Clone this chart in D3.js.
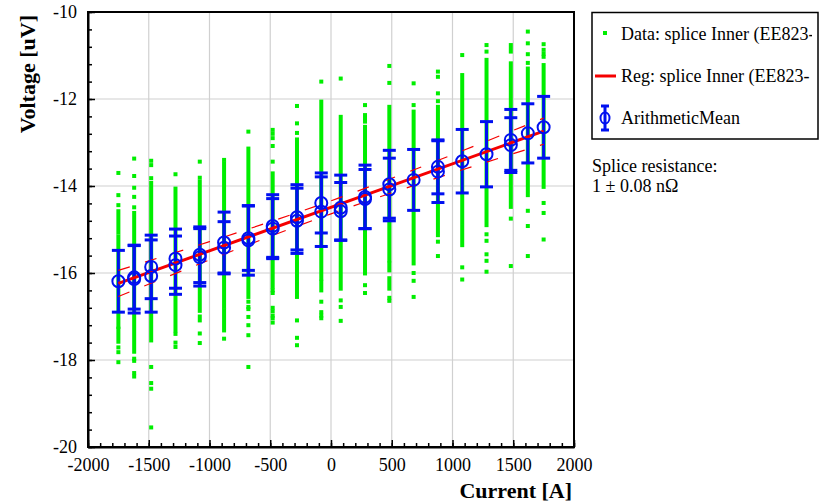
<!DOCTYPE html>
<html>
<head>
<meta charset="utf-8">
<script src="https://cdn.jsdelivr.net/npm/d3@7"></script>
<style>
  body { margin: 0; background: #fff; }
  svg { display: block; font-family: "Liberation Serif", "Times New Roman", serif; }
</style>
</head>
<body>
<div id="chart"></div>
<script>
// measurement currents (one column of readings per current)
var currents = [-1750, -1620, -1480, -1280, -1080, -880, -680, -480, -280, -80,
                80, 280, 480, 680, 880, 1080, 1280, 1480, 1620, 1750];

// dense stretches of readings per column [high, low] in uV
var denseRuns = [
  [[-14.58, -15.07], [-15.16, -17.24], [-17.28, -17.58]],
  [[-14.62, -17.81]],
  [[-13.93, -17.55]],
  [[-14.06, -17.32]],
  [[-13.90, -16.87], [-17.00, -17.09]],
  [[-13.48, -16.78], [-16.86, -17.32]],
  [[-13.14, -16.55]],
  [[-13.71, -16.32]],
  [[-12.93, -16.05], [-16.12, -16.55]],
  [[-12.06, -16.13], [-16.20, -16.40]],
  [[-12.41, -16.36]],
  [[-12.64, -16.01]],
  [[-12.18, -15.71], [-15.78, -15.94], [-16.12, -16.36]],
  [[-12.29, -15.78]],
  [[-12.18, -15.13]],
  [[-11.45, -14.85], [-14.94, -15.36]],
  [[-11.10, -14.90]],
  [[-10.76, -10.91], [-11.18, -14.48]],
  [[-11.30, -14.21]],
  [[-11.22, -14.02]]
];

// isolated readings per column in uV
var loosePoints = [
  [-13.70, -14.21, -14.44, -17.71, -17.82, -18.05],
  [-13.37, -13.77, -14.04, -14.25, -14.49, -17.97, -18.02, -18.30, -18.38],
  [-13.42, -13.52, -13.82, -18.16, -18.53, -18.66, -19.55],
  [-13.73, -17.40, -17.60, -17.70],
  [-13.44, -13.81, -17.39, -17.61],
  [-13.40, -17.51],
  [-12.75, -16.66, -16.78, -16.83, -17.01, -17.20, -17.43, -18.16],
  [-12.71, -12.80, -12.90, -13.08, -13.44, -16.40, -16.46, -16.80, -16.88, -16.98, -17.04, -17.14],
  [-12.16, -12.56, -12.78, -17.09, -17.49, -17.66],
  [-11.60, -16.66, -16.90, -16.98, -17.04],
  [-11.53, -16.63, -16.78, -17.10],
  [-12.14, -12.37, -12.45, -12.52, -16.28, -16.46],
  [-11.24, -11.63, -16.57, -16.64],
  [-11.64, -12.14, -16.00, -16.18, -16.55],
  [-11.37, -11.49, -11.87, -12.05, -15.28, -15.61],
  [-10.99, -15.87, -16.15],
  [-10.76, -10.91, -15.11, -15.26, -15.57, -15.72, -15.97],
  [-14.75, -15.84],
  [-10.45, -10.72, -10.97, -11.17, -14.57, -14.92, -15.61],
  [-10.74, -10.87, -10.96, -11.03, -14.39, -14.62, -15.23]
];

// arithmetic means with standard deviation
var meanCurrent = [-1750, -1620, -1620, -1480, -1480, -1280, -1280, -1080, -1080, -880, -880,
                   -680, -680, -480, -480, -280, -280, -80, -80, 80, 80, 280, 280, 480, 480,
                   680, 880, 880, 1080, 1280, 1480, 1480, 1620, 1750];
var meanVoltage = [-16.19, -16.10, -16.14, -15.86, -16.07, -15.67, -15.82, -15.58, -15.64, -15.30, -15.42,
                   -15.20, -15.25, -14.92, -14.98, -14.72, -14.80, -14.39, -14.59, -14.50, -14.58, -14.25, -14.30, -13.96, -14.08,
                   -13.86, -13.56, -13.67, -13.43, -13.27, -12.94, -13.06, -12.79, -12.65];
var meanStd = [0.71, 0.73, 0.78, 0.73, 0.83, 0.68, 0.67, 0.64, 0.66, 0.70, 0.60,
               0.74, 0.80, 0.72, 0.69, 0.75, 0.75, 0.69, 0.80, 0.75, 0.66, 0.73, 0.68, 0.78, 0.72,
               0.70, 0.62, 0.71, 0.73, 0.75, 0.70, 0.63, 0.68, 0.71];

// linear regression and its confidence band
var regRange = [-1750, 1750];
var regSlope = 0.001;       // uV per A  (1 nOhm)
var regIntercept = -14.49;
var bandCurrent = [-1750, -1000, 0, 1000, 1750];
var bandHalfWidth = [0.30, 0.21, 0.15, 0.21, 0.30];

var xTicks = [-2000, -1500, -1000, -500, 0, 500, 1000, 1500, 2000];
var yTicks = [-20, -18, -16, -14, -12, -10];

(function() {
  var width = 829, height = 503;
  var pLeft = 88, pRight = 574, pTop = 12, pBottom = 447;
  var green = '#00ee00', red = '#f50000', blue = '#0010f0';

  var x = d3.scaleLinear().domain([-2000, 2000]).range([pLeft, pRight]);
  var y = d3.scaleLinear().domain([-20, -10]).range([pBottom, pTop]);

  var svg = d3.select('#chart').append('svg')
    .attr('width', width)
    .attr('height', height);

  svg.append('rect').attr('width', width).attr('height', height).attr('fill', '#fff');

  // grid
  var grid = svg.append('g').attr('stroke', '#d0d0d0').attr('stroke-width', 1.2);
  grid.selectAll('.gx').data(xTicks.slice(1, -1)).enter().append('line')
    .attr('x1', function(d) { return x(d); }).attr('x2', function(d) { return x(d); })
    .attr('y1', pTop).attr('y2', pBottom);
  grid.selectAll('.gy').data(yTicks.slice(1, -1)).enter().append('line')
    .attr('y1', function(d) { return y(d); }).attr('y2', function(d) { return y(d); })
    .attr('x1', pLeft).attr('x2', pRight);

  // raw data
  var pts = svg.append('g').attr('fill', green);
  currents.forEach(function(c, i) {
    pts.selectAll(null).data(denseRuns[i]).enter().append('rect')
      .attr('x', x(c) - 2)
      .attr('y', function(r) { return y(r[0]) - 2; })
      .attr('width', 4)
      .attr('height', function(r) { return y(r[1]) - y(r[0]) + 4; });
    pts.selectAll(null).data(loosePoints[i]).enter().append('rect')
      .attr('x', x(c) - 2)
      .attr('y', function(v) { return y(v) - 2; })
      .attr('width', 4)
      .attr('height', 4);
  });

  // error bars
  var means = meanCurrent.map(function(c, i) {
    return { c: c, v: meanVoltage[i], s: meanStd[i] };
  });
  var eb = svg.append('g').attr('stroke', blue).attr('stroke-width', 3);
  eb.selectAll('.bar').data(means).enter().append('line')
    .attr('x1', function(d) { return x(d.c); }).attr('x2', function(d) { return x(d.c); })
    .attr('y1', function(d) { return y(d.v + d.s); }).attr('y2', function(d) { return y(d.v - d.s); });
  [1, -1].forEach(function(sign) {
    eb.selectAll(null).data(means).enter().append('line')
      .attr('x1', function(d) { return x(d.c) - 6.5; }).attr('x2', function(d) { return x(d.c) + 6.5; })
      .attr('y1', function(d) { return y(d.v + sign * d.s); })
      .attr('y2', function(d) { return y(d.v + sign * d.s); });
  });

  // regression
  svg.append('line')
    .attr('x1', x(regRange[0])).attr('x2', x(regRange[1]))
    .attr('y1', y(regIntercept + regSlope * regRange[0]))
    .attr('y2', y(regIntercept + regSlope * regRange[1]))
    .attr('stroke', red).attr('stroke-width', 3);

  [1, -1].forEach(function(sign) {
    var band = d3.line()
      .x(function(d, i) { return x(bandCurrent[i]); })
      .y(function(d, i) { return y(regIntercept + regSlope * bandCurrent[i] + sign * bandHalfWidth[i]); })
      .curve(d3.curveNatural);
    svg.append('path')
      .attr('d', band(bandCurrent))
      .attr('fill', 'none')
      .attr('stroke', red).attr('stroke-width', 1.2)
      .attr('stroke-dasharray', '12,16');
  });

  // mean markers
  svg.append('g').selectAll('circle').data(means).enter().append('circle')
    .attr('cx', function(d) { return x(d.c); })
    .attr('cy', function(d) { return y(d.v); })
    .attr('r', 6)
    .attr('fill', 'none')
    .attr('stroke', blue).attr('stroke-width', 2);

  // axes
  var fmt = function(d) { return String(d); };
  function styleAxis(g) {
    g.selectAll('text').attr('font-size', 18).attr('fill', '#000')
      .attr('font-family', '"Liberation Serif", "Times New Roman", serif');
    g.select('.domain').attr('stroke-width', 2);
    g.selectAll('.tick line').attr('stroke-width', 1.5);
  }
  svg.append('g').attr('transform', 'translate(0,' + pBottom + ')')
    .call(d3.axisBottom(x).tickValues(d3.range(-2000, 2001, 100)).tickSize(-4).tickSizeOuter(0).tickFormat(''))
    .call(function(g) { g.select('.domain').remove(); g.selectAll('line').attr('stroke-width', 1.5); });
  svg.append('g').attr('transform', 'translate(' + pLeft + ',0)')
    .call(d3.axisLeft(y).tickValues(d3.range(-20, -9.99, 0.4)).tickSize(-4).tickSizeOuter(0).tickFormat(''))
    .call(function(g) { g.select('.domain').remove(); g.selectAll('line').attr('stroke-width', 1.5); });
  svg.append('g').attr('transform', 'translate(0,' + pBottom + ')')
    .call(d3.axisBottom(x).tickValues(xTicks).tickSize(-7).tickSizeOuter(0).tickPadding(11).tickFormat(fmt))
    .call(styleAxis);
  svg.append('g').attr('transform', 'translate(' + pLeft + ',0)')
    .call(d3.axisLeft(y).tickValues(yTicks).tickSize(-7).tickSizeOuter(0).tickPadding(11).tickFormat(fmt))
    .call(styleAxis);

  // frame
  svg.append('rect')
    .attr('x', pLeft).attr('y', pTop)
    .attr('width', pRight - pLeft).attr('height', pBottom - pTop)
    .attr('fill', 'none').attr('stroke', '#000').attr('stroke-width', 2);

  // axis titles
  svg.append('text')
    .attr('x', 572).attr('y', 498)
    .attr('text-anchor', 'end')
    .attr('font-size', 22).attr('font-weight', 'bold')
    .text('Current [A]');
  svg.append('text')
    .attr('transform', 'translate(35,15) rotate(-90)')
    .attr('text-anchor', 'end')
    .attr('font-size', 22).attr('font-weight', 'bold')
    .text('Voltage [uV]');

  // legend
  var lg = svg.append('g');
  svg.append('clipPath').attr('id', 'legclip')
    .append('rect').attr('x', 592).attr('y', 12).attr('width', 220).attr('height', 127);
  lg.append('rect')
    .attr('x', 592).attr('y', 12.5).attr('width', 226).attr('height', 126.5)
    .attr('fill', '#fff').attr('stroke', '#000').attr('stroke-width', 1.5);
  lg.append('rect').attr('x', 603).attr('y', 31).attr('width', 4).attr('height', 4).attr('fill', green);
  lg.append('line').attr('x1', 595).attr('x2', 616).attr('y1', 76).attr('y2', 76)
    .attr('stroke', red).attr('stroke-width', 3);
  lg.append('line').attr('x1', 605).attr('x2', 605).attr('y1', 106).attr('y2', 130)
    .attr('stroke', blue).attr('stroke-width', 3);
  lg.append('line').attr('x1', 601).attr('x2', 609).attr('y1', 106).attr('y2', 106)
    .attr('stroke', blue).attr('stroke-width', 3);
  lg.append('line').attr('x1', 601).attr('x2', 609).attr('y1', 130).attr('y2', 130)
    .attr('stroke', blue).attr('stroke-width', 3);
  lg.append('ellipse').attr('cx', 605).attr('cy', 118).attr('rx', 4.5).attr('ry', 5.5)
    .attr('fill', 'none').attr('stroke', blue).attr('stroke-width', 2);

  var legendLabels = ['Data: splice Inner (EE823-', 'Reg: splice Inner (EE823-', 'ArithmeticMean'];
  var legendY = [39.5, 82, 124];
  lg.append('g').attr('clip-path', 'url(#legclip)')
    .selectAll('text').data(legendLabels).enter().append('text')
    .attr('x', 621)
    .attr('y', function(d, i) { return legendY[i]; })
    .attr('font-size', 18)
    .text(function(d) { return d; });

  svg.append('text').attr('x', 592).attr('y', 172).attr('font-size', 18).text('Splice resistance:');
  svg.append('text').attr('x', 592).attr('y', 192).attr('font-size', 18).text('1 \u00b1 0.08 n\u03a9');
})();
</script>
</body>
</html>
